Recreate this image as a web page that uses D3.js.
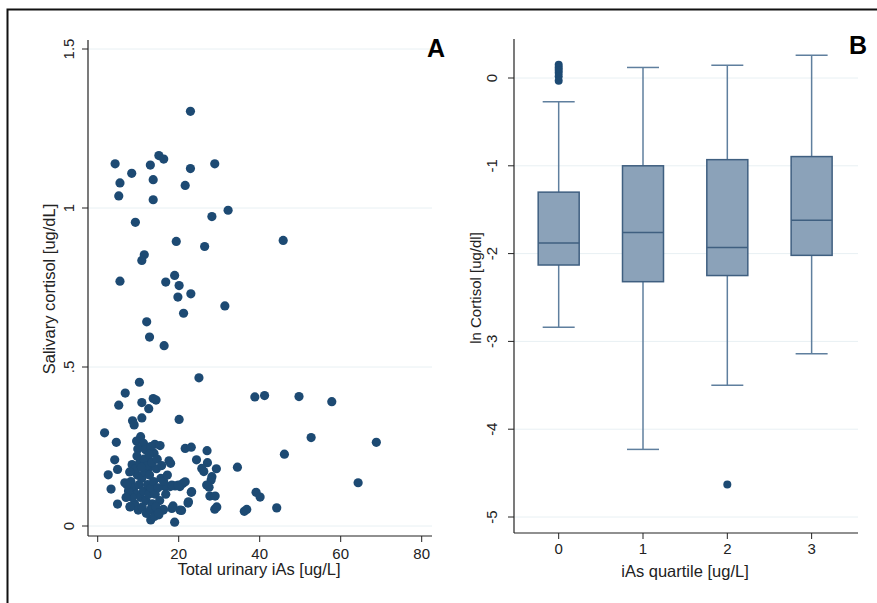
<!DOCTYPE html>
<html><head><meta charset="utf-8">
<script src="https://cdn.jsdelivr.net/npm/d3@7"></script>
<style>body{margin:0;background:#fff}svg{display:block}text{font-family:"Liberation Sans",Arial,sans-serif}</style>
</head><body>
<svg id="c" width="877" height="603"></svg>
<script>
// Panel A data: total urinary iAs (ug/L) vs salivary cortisol (ug/dL)
const iasValues = [
22.9,4.3,8.4,5.5,5.2,13.0,13.7,13.7,15.1,16.3,22.9,21.6,28.9,32.2,28.2,9.3,19.4,26.4,45.8,11.5,10.9,5.5,19.0,16.8,20.1,23.0,19.8,
31.4,21.2,12.1,12.8,16.4,25.0,10.3,6.8,38.8,41.2,49.7,57.8,5.2,10.9,13.7,14.4,12.6,8.6,9.0,10.9,20.1,1.7,52.7,68.8,4.6,10.6,9.6,11.3,9.9,14.1,15.4,21.6,23.1,27.0,13.9,46.1,4.2,12.4,17.6,18.0,24.4,8.5,27.1,34.5,2.6,4.9,25.7,26.2,29.3,28.2,28.0,26.9,64.3,3.3,6.7,23.1,21.0,20.3,27.7,39.1,40.1,4.9,8.0,22.3,28.9,44.2,36.2,36.8,13.1,19.0,20.7,18.6,16.2,15.1,13.6,17.9,19.1,
12.5,12.9,16.6,18.3,19.9,21.6,23.2,22.4,20.3,18.3,16.2,14.6,13.4,29.0,29.4,27.5,
8.2,8.9,9.5,9.8,10.2,10.6,10.9,11.3,11.6,11.9,12.3,12.6,12.8,13.2,13.5,13.8,14.2,14.5,14.9,15.3,15.6,9.1,10.0,11.0,12.0,13.0,14.0,8.5,9.3,10.4,11.4,12.2,13.4,14.7,15.8,16.3,16.8,7.6,7.9,11.8,13.1,14.4,15.0,9.7,12.7,10.8,7.2,7.0,8.0,17.2
];
const cortisolValues = [
1.304,1.139,1.109,1.079,1.038,1.135,1.089,1.026,1.165,1.154,1.124,1.071,1.139,0.993,0.973,0.955,0.895,0.879,0.898,0.853,0.835,0.770,0.788,0.767,0.756,0.730,0.720,
0.692,0.669,0.642,0.594,0.567,0.466,0.452,0.418,0.406,0.410,0.407,0.391,0.380,0.388,0.401,0.396,0.369,0.331,0.318,0.340,0.335,0.293,0.278,0.263,0.263,0.281,0.267,0.260,0.242,0.257,0.253,0.244,0.248,0.237,0.229,0.226,0.208,0.210,0.205,0.197,0.208,0.193,0.199,0.185,0.161,0.178,0.181,0.171,0.180,0.155,0.145,0.129,0.136,0.116,0.136,0.106,0.134,0.124,0.094,0.106,0.091,0.069,0.061,0.072,0.053,0.057,0.046,0.052,0.019,0.012,0.049,0.063,0.052,0.035,0.050,0.124,0.126,
0.205,0.186,0.124,0.129,0.129,0.139,0.108,0.076,0.050,0.055,0.050,0.045,0.061,0.094,0.060,0.122,
0.14,0.12,0.10,0.16,0.13,0.09,0.15,0.11,0.17,0.08,0.13,0.10,0.16,0.12,0.07,0.14,0.10,0.18,0.12,0.08,0.15,0.07,0.05,0.06,0.04,0.05,0.03,0.09,0.18,0.20,0.21,0.19,0.20,0.21,0.19,0.14,0.10,0.11,0.17,0.24,0.25,0.06,0.04,0.22,0.225,0.185,0.13,0.09,0.06,0.16
];
const xTicksA = [0,20,40,60,80];
const yTicksA = [0,0.5,1,1.5];
const yTickLabelsA = ["0",".5","1","1.5"];

// Panel B data: ln cortisol by iAs quartile
const quartiles = [0,1,2,3];
const q1Values = [-1.30,-1.00,-0.93,-0.895];
const medianValues = [-1.88,-1.76,-1.93,-1.62];
const q3Values = [-2.13,-2.32,-2.25,-2.02];
const upperWhisker = [-0.27,0.12,0.145,0.26];
const lowerWhisker = [-2.84,-4.23,-3.50,-3.14];
const outlierGroup = [0,0,0,0,0,0,2];
const outlierValues = [0.15,0.12,0.09,0.06,0.02,-0.03,-4.63];
const yTicksB = [0,-1,-2,-3,-4,-5];

const svg = d3.select("#c");
const navy = "#1d4a73";
const grid = "#e8f0f3";
const tickFont = 15, titleFont = 16.5;

// frame
svg.append("path").attr("d","M7.5,603 V9.5 H877").attr("fill","none").attr("stroke","#111").attr("stroke-width",2);

// ---------- Panel A ----------
const xA = d3.scaleLinear().domain([0,80]).range([97.7,421.7]);
const yA = d3.scaleLinear().domain([0,1.5]).range([526,49]);
const gA = svg.append("g");
gA.selectAll(".gl").data(yTicksA).join("line")
  .attr("x1",88).attr("x2",432).attr("y1",d=>yA(d)).attr("y2",d=>yA(d))
  .attr("stroke",grid).attr("stroke-width",1);
gA.append("line").attr("x1",88).attr("x2",88).attr("y1",40).attr("y2",536).attr("stroke","#222").attr("stroke-width",1.2);
gA.append("line").attr("x1",88).attr("x2",432).attr("y1",536).attr("y2",536).attr("stroke","#222").attr("stroke-width",1.2);
gA.selectAll(".yt").data(yTicksA).join("line")
  .attr("x1",82).attr("x2",88).attr("y1",d=>yA(d)).attr("y2",d=>yA(d)).attr("stroke","#222");
gA.selectAll(".ytl").data(yTicksA).join("text")
  .attr("transform",d=>`translate(73.5,${yA(d)}) rotate(-90)`)
  .attr("text-anchor","middle").attr("font-size",tickFont).attr("fill","#222")
  .text((d,i)=>yTickLabelsA[i]);
gA.selectAll(".xt").data(xTicksA).join("line")
  .attr("x1",d=>xA(d)).attr("x2",d=>xA(d)).attr("y1",536).attr("y2",542).attr("stroke","#222");
gA.selectAll(".xtl").data(xTicksA).join("text")
  .attr("x",d=>xA(d)).attr("y",558.5).attr("text-anchor","middle").attr("font-size",tickFont).attr("fill","#222")
  .text(d=>d);
gA.append("text").attr("x",259).attr("y",575).attr("text-anchor","middle").attr("font-size",titleFont).attr("fill","#222")
  .text("Total urinary iAs [ug/L]");
gA.append("text").attr("transform","translate(55,289) rotate(-90)").attr("text-anchor","middle")
  .attr("font-size",titleFont).attr("fill","#222").text("Salivary cortisol [ug/dL]");
gA.selectAll("circle").data(iasValues.map((x,i)=>[x,cortisolValues[i]])).join("circle")
  .attr("cx",d=>xA(d[0])).attr("cy",d=>yA(d[1])).attr("r",4.6).attr("fill",navy);
gA.append("text").attr("x",436).attr("y",57).attr("text-anchor","middle").attr("font-size",25)
  .attr("font-weight","bold").attr("fill","#000").text("A");

// ---------- Panel B ----------
const xB = d3.scaleLinear().domain([-0.53,3.55]).range([514,858]);
const yB = d3.scaleLinear().domain([0,-5]).range([78,517]);
const gB = svg.append("g");
gB.selectAll(".gl").data(yTicksB).join("line")
  .attr("x1",514).attr("x2",858).attr("y1",d=>yB(d)).attr("y2",d=>yB(d))
  .attr("stroke",grid).attr("stroke-width",1);
gB.append("line").attr("x1",514).attr("x2",514).attr("y1",39).attr("y2",533).attr("stroke","#222").attr("stroke-width",1.2);
gB.append("line").attr("x1",514).attr("x2",858).attr("y1",533).attr("y2",533).attr("stroke","#222").attr("stroke-width",1.2);
gB.selectAll(".yt").data(yTicksB).join("line")
  .attr("x1",508).attr("x2",514).attr("y1",d=>yB(d)).attr("y2",d=>yB(d)).attr("stroke","#222");
gB.selectAll(".ytl").data(yTicksB).join("text")
  .attr("transform",d=>`translate(497,${yB(d)}) rotate(-90)`)
  .attr("text-anchor","middle").attr("font-size",tickFont).attr("fill","#222").text(d=>d);
gB.selectAll(".xt").data(quartiles).join("line")
  .attr("x1",d=>xB(d)).attr("x2",d=>xB(d)).attr("y1",533).attr("y2",539).attr("stroke","#222");
gB.selectAll(".xtl").data(quartiles).join("text")
  .attr("x",d=>xB(d)).attr("y",554).attr("text-anchor","middle").attr("font-size",tickFont).attr("fill","#222").text(d=>d);
gB.append("text").attr("x",685).attr("y",577).attr("text-anchor","middle").attr("font-size",titleFont).attr("fill","#222")
  .text("iAs quartile [ug/L]");
gB.append("text").attr("transform","translate(481,288) rotate(-90)").attr("text-anchor","middle")
  .attr("font-size",tickFont).attr("fill","#222").text("ln Cortisol [ug/dl]");

const boxW = 41, capW = 32;
const wc = "#5f7f9e", bc = "#3f5f80";
const boxes = quartiles.map((q,i)=>({q,top:q1Values[i],med:medianValues[i],bot:q3Values[i],hi:upperWhisker[i],lo:lowerWhisker[i]}));
const bg = gB.selectAll(".box").data(boxes).join("g");
bg.append("line").attr("x1",d=>xB(d.q)).attr("x2",d=>xB(d.q)).attr("y1",d=>yB(d.hi)).attr("y2",d=>yB(d.top)).attr("stroke",wc).attr("stroke-width",1.5);
bg.append("line").attr("x1",d=>xB(d.q)).attr("x2",d=>xB(d.q)).attr("y1",d=>yB(d.bot)).attr("y2",d=>yB(d.lo)).attr("stroke",wc).attr("stroke-width",1.5);
bg.append("line").attr("x1",d=>xB(d.q)-capW/2).attr("x2",d=>xB(d.q)+capW/2).attr("y1",d=>yB(d.hi)).attr("y2",d=>yB(d.hi)).attr("stroke",wc).attr("stroke-width",1.5);
bg.append("line").attr("x1",d=>xB(d.q)-capW/2).attr("x2",d=>xB(d.q)+capW/2).attr("y1",d=>yB(d.lo)).attr("y2",d=>yB(d.lo)).attr("stroke",wc).attr("stroke-width",1.5);
bg.append("rect").attr("x",d=>xB(d.q)-boxW/2).attr("width",boxW).attr("y",d=>yB(d.top)).attr("height",d=>yB(d.bot)-yB(d.top))
  .attr("fill","#8ba2b9").attr("stroke",bc).attr("stroke-width",1.5);
bg.append("line").attr("x1",d=>xB(d.q)-boxW/2).attr("x2",d=>xB(d.q)+boxW/2).attr("y1",d=>yB(d.med)).attr("y2",d=>yB(d.med)).attr("stroke",bc).attr("stroke-width",1.5);
gB.selectAll("circle").data(outlierValues.map((v,i)=>[outlierGroup[i],v])).join("circle")
  .attr("cx",d=>xB(d[0])).attr("cy",d=>yB(d[1])).attr("r",4).attr("fill",navy);
gB.append("text").attr("x",858).attr("y",54).attr("text-anchor","middle").attr("font-size",25)
  .attr("font-weight","bold").attr("fill","#000").text("B");
</script>
</body></html>
